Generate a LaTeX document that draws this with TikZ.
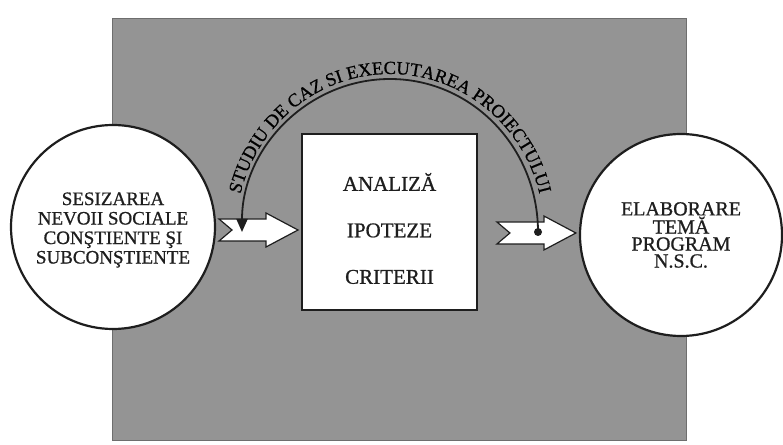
\documentclass[tikz,border=0pt]{standalone}
\usepackage{fontspec}
\setmainfont{Liberation Serif}
\newfontfamily\heavy{Liberation Serif}[FakeBold=0.8]
\usetikzlibrary{calc,decorations.text,arrows.meta}
\definecolor{bg}{RGB}{148,148,148}
\definecolor{bgedge}{RGB}{110,110,110}
\definecolor{ink}{RGB}{30,30,30}
\newcommand\arcfont{\heavy\fontsize{18.5}{18.5}\selectfont}
\begin{document}
\begin{tikzpicture}[x=1pt,y=1pt,
  circ/.style={circle,draw=ink,line width=2.2pt,fill=white,minimum size=#1,inner sep=0pt,align=center,font=\heavy\fontsize{19}{19.5}\selectfont,text=ink},
  boxnode/.style={rectangle,draw=ink,line width=2pt,fill=white,minimum width=175pt,minimum height=176pt,inner sep=0pt},
  boxtext/.style={align=center,font=\heavy\fontsize{21}{46.5}\selectfont,text=ink},
  blockarr/.style={draw=ink,line width=1.2pt,fill=white,line join=miter},
  arcline/.style={draw=ink,line width=1.8pt},
  pics/fatarrow/.style={code={\draw[blockarr] (0,11) -- (47,11) -- (47,17) -- (79,0) -- (47,-17) -- (47,-11) -- (0,-11) -- (13,0) -- cycle;}}
]
\useasboundingbox (0,0) rectangle (783,444);
\fill[bg] (112,4) rectangle (686,426);
\draw[bgedge,line width=0.8pt] (112,4) rectangle (686,426);

\node[boxnode] (box) at (389.5,222) {};
\node[boxtext] (boxt) at ($(box.center)+(0,-6.5)$) {ANALIZĂ\\IPOTEZE\\CRITERII};

\node[circ=204pt] (L) at (113,217) {};
\node[align=center,font=\heavy\fontsize{19}{19.5}\selectfont,text=ink] (Lt) at ($(L.center)+(0,-3)$) {SESIZAREA\\NEVOII SOCIALE\\CONŞTIENTE ŞI\\SUBCONŞTIENTE};
\node[circ=202pt,font=\heavy\fontsize{20}{17}\selectfont] (R) at (681,209) {ELABORARE\\TEMĂ\\PROGRAM\\N.S.C.};

\path (box.west) ++(-82,-8) pic (arrowL) {fatarrow};
\path (R.west) ++(-82,2) pic (arrowR) {fatarrow};

\coordinate (arcR) at (538,212);
\draw[arcline,-{Triangle[length=13pt,width=11pt]}] (arcR) arc[start angle=0,end angle=180,x radius=148,y radius=153] coordinate (arcL);
\fill[ink] (arcR) circle (4);

\path[decorate,decoration={text along path,text align=center,text={|\arcfont|STUDIU DE CAZ SI EXECUTAREA PROIECTULUI}}]
  (236,212) arc[start angle=180,end angle=0,x radius=154,y radius=158];
\end{tikzpicture}
\end{document}
